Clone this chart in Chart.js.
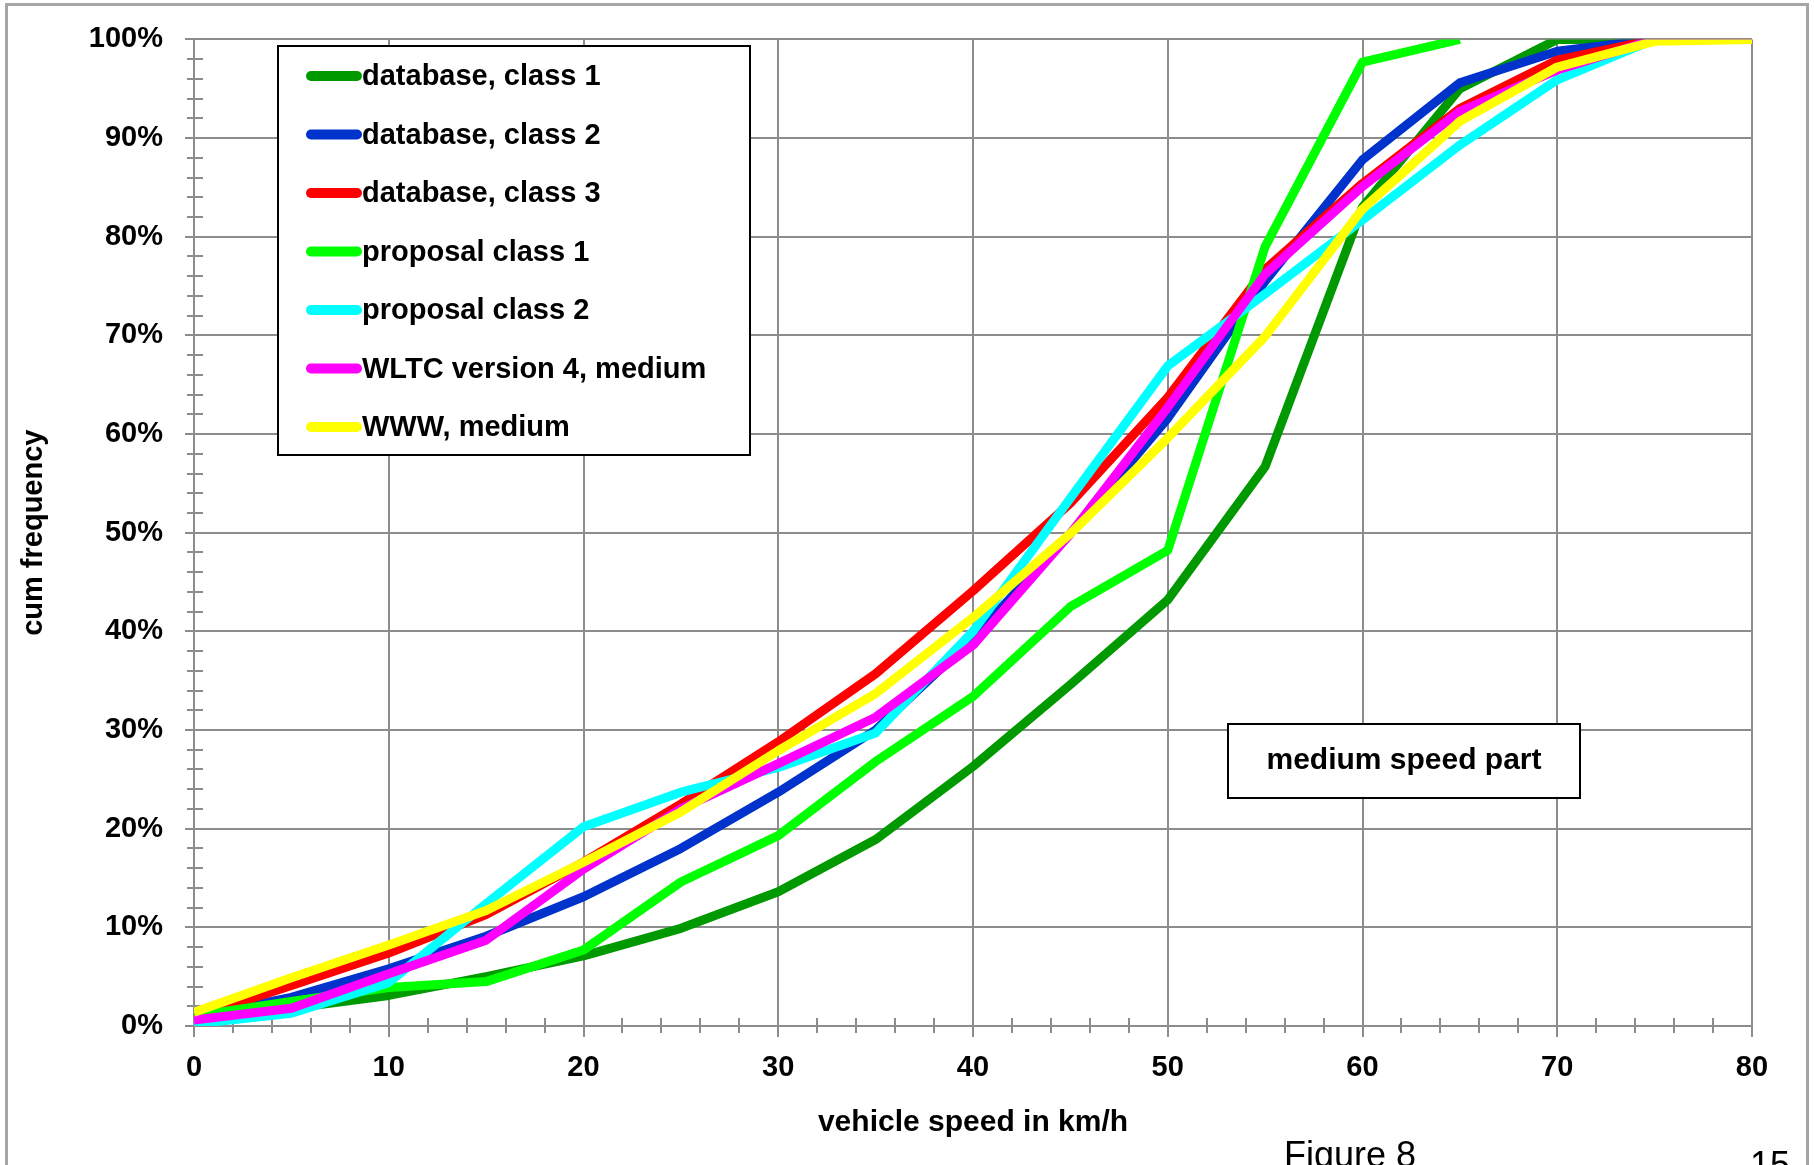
<!DOCTYPE html>
<html>
<head>
<meta charset="utf-8">
<script src="https://cdn.jsdelivr.net/npm/chart.js@4.4.1/dist/chart.umd.min.js"></script>
<style>
  html, body { margin: 0; padding: 0; background: #fff; overflow: hidden; }
  body { width: 1814px; height: 1165px; position: relative; }
  #frame { position: absolute; left: 5px; top: 3px; width: 1804px; height: 1200px; border: 3px solid #a6a6a6; box-sizing: border-box; }
  canvas { position: absolute; left: 0; top: 0; }
  .foot { position: absolute; font-family: 'Liberation Sans', Arial, sans-serif; font-size: 36px; line-height: 36px; color: #000; white-space: nowrap; }
</style>
</head>
<body>
<div id="frame"></div>
<canvas id="c" width="1814" height="1165"></canvas>
<div class="foot" style="left:1284px; top:1137px;">Figure 8</div>
<div class="foot" style="left:1750px; top:1147px;">15</div>
<script>
// ---- data ----
const speeds = [0, 5, 10, 15, 20, 25, 30, 35, 40, 45, 50, 55, 60, 65, 70, 75, 80];
const seriesNames = ["database, class 1", "database, class 2", "database, class 3",
  "proposal class 1", "proposal class 2", "WLTC version 4, medium", "WWW, medium"];
const database1 = [1.0, 1.8, 3.1, 5.0, 7.1, 9.9, 13.6, 18.9, 26.3, 34.6, 43.2, 56.7, 83.0, 95.0, 100, 100, 100];
const database2 = [0.9, 2.9, 5.8, 9.1, 13.1, 18.0, 23.7, 30.0, 39.3, 49.9, 61.6, 75.5, 87.8, 95.6, 98.8, 100, 100];
const database3 = [0.9, 4.1, 7.4, 11.3, 16.6, 22.5, 28.8, 35.7, 44.1, 53.0, 63.7, 76.7, 85.4, 93.0, 97.9, 100, 100];
const proposal1 = [1.0, 2.5, 3.9, 4.5, 7.7, 14.6, 19.3, 26.8, 33.4, 42.5, 48.2, 79.0, 97.7, 100, null, null, null];
const proposal2 = [0.2, 1.3, 4.4, 12.4, 20.2, 23.7, 26.2, 29.7, 40.0, 53.5, 66.9, 74.2, 81.7, 89.3, 95.9, 100, 100];
const wltcMedium = [0.6, 1.8, 5.3, 8.7, 15.9, 22.0, 26.6, 31.3, 38.6, 49.9, 62.7, 76.2, 85.1, 92.7, 96.9, 100, 100];
const wwwMedium = [1.4, 4.9, 8.2, 11.7, 16.6, 21.7, 27.9, 33.7, 41.4, 49.9, 59.6, 69.9, 82.8, 91.7, 97.2, 99.8, 100];
const seriesColors = ["#009900", "#0033cc", "#ff0000", "#00ff00", "#00ffff", "#ff00ff", "#ffff00"];
const xTicks = [0, 10, 20, 30, 40, 50, 60, 70, 80];
const yTicks = [0, 10, 20, 30, 40, 50, 60, 70, 80, 90, 100];
const xTitle = "vehicle speed in km/h";
const yTitle = "cum frequency";
const noteText = "medium speed part";

const allSeries = [database1, database2, database3, proposal1, proposal2, wltcMedium, wwwMedium];

const FONT = "'Liberation Sans', Arial, sans-serif";
const GRID = "#8c8c8c";

const datasets = allSeries.map((vals, i) => ({
  label: seriesNames[i],
  data: speeds.map((s, k) => ({ x: s, y: vals[k] })),
  borderColor: seriesColors[i],
  backgroundColor: seriesColors[i],
  borderWidth: 9,
  pointRadius: 0,
  fill: false,
  tension: 0,
  borderJoinStyle: 'round',
  borderCapStyle: 'butt',
  spanGaps: false,
  order: allSeries.length - i
}));

const extras = {
  id: 'extras',
  beforeDatasetsDraw(chart) {
    const ctx = chart.ctx;
    const xs = chart.scales.x, ys = chart.scales.y;
    ctx.save();
    ctx.strokeStyle = GRID;
    ctx.lineWidth = 2;
    const x0 = xs.getPixelForValue(0);
    const y0 = ys.getPixelForValue(0);
    // minor ticks on y axis every 2%
    for (let v = 2; v < 100; v += 2) {
      if (v % 10 === 0) continue;
      const y = Math.round(ys.getPixelForValue(v));
      ctx.beginPath(); ctx.moveTo(x0 - 7, y); ctx.lineTo(x0 + 9, y); ctx.stroke();
    }
    // minor ticks on x axis every 2 km/h
    for (let v = 2; v < 80; v += 2) {
      if (v % 10 === 0) continue;
      const x = Math.round(xs.getPixelForValue(v));
      ctx.beginPath(); ctx.moveTo(x, y0 - 8); ctx.lineTo(x, y0 + 7); ctx.stroke();
    }
    ctx.restore();
  },
  afterDatasetsDraw(chart) {
    const ctx = chart.ctx;
    ctx.save();
    // legend box
    const lx = 278, ly = 46, lw = 472, lh = 409;
    ctx.fillStyle = '#fff';
    ctx.fillRect(lx, ly, lw, lh);
    ctx.strokeStyle = '#000';
    ctx.lineWidth = 2;
    ctx.strokeRect(lx, ly, lw, lh);
    ctx.font = "bold 29px " + FONT;
    ctx.textBaseline = 'middle';
    ctx.textAlign = 'left';
    chart.data.datasets.forEach((ds, i) => {
      const y = 76 + i * 58.5;
      ctx.strokeStyle = ds.borderColor;
      ctx.lineWidth = 10;
      ctx.lineCap = 'round';
      ctx.beginPath(); ctx.moveTo(311, y); ctx.lineTo(357, y); ctx.stroke();
      ctx.fillStyle = '#000';
      ctx.fillText(ds.label, 362, y + 1);
    });
    // note box
    const bx = 1228, by = 724, bw = 352, bh = 74;
    ctx.fillStyle = '#fff';
    ctx.fillRect(bx, by, bw, bh);
    ctx.strokeStyle = '#000';
    ctx.lineWidth = 2;
    ctx.strokeRect(bx, by, bw, bh);
    ctx.fillStyle = '#000';
    ctx.textAlign = 'center';
    ctx.font = "bold 30px " + FONT;
    ctx.fillText(noteText, bx + bw / 2, by + bh / 2);
    ctx.restore();
  }
};

Chart.defaults.font.family = FONT;
Chart.defaults.color = '#000';

new Chart(document.getElementById('c'), {
  type: 'line',
  data: { datasets },
  options: {
    responsive: false,
    animation: false,
    devicePixelRatio: 1,
    layout: { padding: { left: 0, right: 62, top: 38, bottom: 0 } },
    plugins: { legend: { display: false }, tooltip: { enabled: false } },
    scales: {
      x: {
        type: 'linear', min: 0, max: 80,
        afterBuildTicks: (s) => { s.ticks = xTicks.map(v => ({ value: v })); },
        afterFit: (s) => { s.height = 139; },
        ticks: { font: { size: 29, weight: 'bold' }, color: '#000', padding: 14, maxRotation: 0 },
        grid: { color: GRID, lineWidth: 2, tickLength: 11 },
        border: { color: GRID, width: 2 },
        title: { display: true, text: xTitle, font: { size: 30, weight: 'bold' }, color: '#000', padding: { top: 0, bottom: 24 } }
      },
      y: {
        type: 'linear', min: 0, max: 100,
        afterBuildTicks: (s) => { s.ticks = yTicks.map(v => ({ value: v })); },
        afterFit: (s) => { s.width = 194; },
        ticks: { font: { size: 29, weight: 'bold' }, color: '#000', padding: 22, callback: (v) => v + '%' },
        grid: { color: GRID, lineWidth: 2, tickLength: 9 },
        border: { color: GRID, width: 2 },
        title: { display: true, text: yTitle, font: { size: 29, weight: 'bold' }, color: '#000', padding: { top: 17, bottom: 0 } }
      }
    }
  },
  plugins: [extras]
});
</script>
</body>
</html>
